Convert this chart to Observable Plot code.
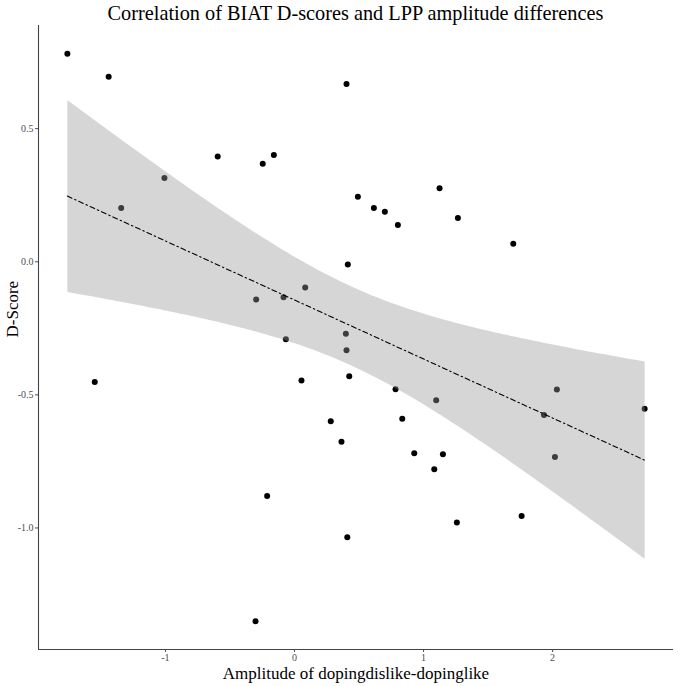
<!DOCTYPE html>
<html>
<head>
<meta charset="utf-8">
<script src="https://cdn.jsdelivr.net/npm/d3@7"></script>
<script src="https://cdn.jsdelivr.net/npm/@observablehq/plot@0.6"></script>
<style>
  body { margin: 0; background: #fff; }
  #title {
    height: 24px; line-height: 26px; padding-left: 38px; padding-right: 7px;
    text-align: center; font-family: "Liberation Serif", serif; font-size: 20.3px; color: #000;
    white-space: nowrap;
  }
</style>
</head>
<body>
<div id="title">Correlation of BIAT D-scores and LPP amplitude differences</div>
<div id="chart"></div>
<script>
const amplitude = [-1.760, -1.440, -1.343, -1.008, -0.595, -0.246, -0.160, -0.297, -0.085, 0.083,
  -0.067, 0.403, 0.491, 0.615, 0.700, 0.801, 1.124, 1.266, 1.695, 0.413,
  0.398, -1.548, 0.054, 0.281, 0.364, -0.212, -0.302, 0.403, 0.424, 0.783,
  1.098, 0.835, 0.928, 1.150, 1.083, 1.258, 1.760, 0.409, 2.033, 1.933,
  2.018, 2.713];
const dscore = [0.781, 0.695, 0.202, 0.315, 0.395, 0.368, 0.401, -0.142, -0.133, -0.097,
  -0.291, 0.668, 0.244, 0.202, 0.188, 0.138, 0.276, 0.164, 0.068, -0.010,
  -0.270, -0.452, -0.446, -0.599, -0.676, -0.880, -1.350, -0.332, -0.430, -0.479,
  -0.520, -0.590, -0.719, -0.723, -0.779, -0.979, -0.955, -1.035, -0.480, -0.576,
  -0.733, -0.552];
const xTicks = [-1, 0, 1, 2];
const yTicks = [-1, -0.5, 0, 0.5];
const xLabel = "Amplitude of dopingdislike-dopinglike";
const yLabel = "D-Score";

const data = amplitude.map((a, i) => ({x: a, y: dscore[i]}));
function expand(ext) { const p = (ext[1] - ext[0]) * 0.05; return [ext[0] - p, ext[1] + p]; }
const xDomain = expand(d3.extent(amplitude));
const yDomain = expand(d3.extent(dscore));

const plot = Plot.plot({
  width: 680, height: 662,
  marginTop: 1, marginLeft: 38, marginRight: 7, marginBottom: 37,
  style: {fontFamily: "'Liberation Serif', serif", fontSize: "10px", background: "#fff", color: "#000"},
  x: {domain: xDomain},
  y: {domain: yDomain},
  marks: [
    Plot.dot(data, {x: "x", y: "y", r: 3, fill: "black"}),
    Plot.linearRegressionY(data, {x: "x", y: "y", stroke: "black", strokeWidth: 1.1,
      strokeDasharray: "5,3,1.5,3", fill: "#999999", fillOpacity: 0.4}),
    Plot.axisX({ticks: xTicks, tickFormat: d => String(d), tickSize: 3, tickPadding: 1,
      color: "#4d4d4d", label: null}),
    Plot.axisY({ticks: yTicks, tickFormat: d => d.toFixed(1), tickSize: 3, tickPadding: 2,
      color: "#4d4d4d", label: null}),
    Plot.ruleX([xDomain[0]], {stroke: "#444", strokeWidth: 1.1}),
    Plot.ruleY([yDomain[0]], {stroke: "#444", strokeWidth: 1.1}),
    Plot.text([xLabel], {frameAnchor: "bottom", dy: 29, fontSize: 17, fill: "#000"}),
    Plot.text([yLabel], {frameAnchor: "left", dx: -26, rotate: -90, fontSize: 17, fill: "#000"})
  ]
});
document.getElementById("chart").appendChild(plot);
</script>
</body>
</html>
